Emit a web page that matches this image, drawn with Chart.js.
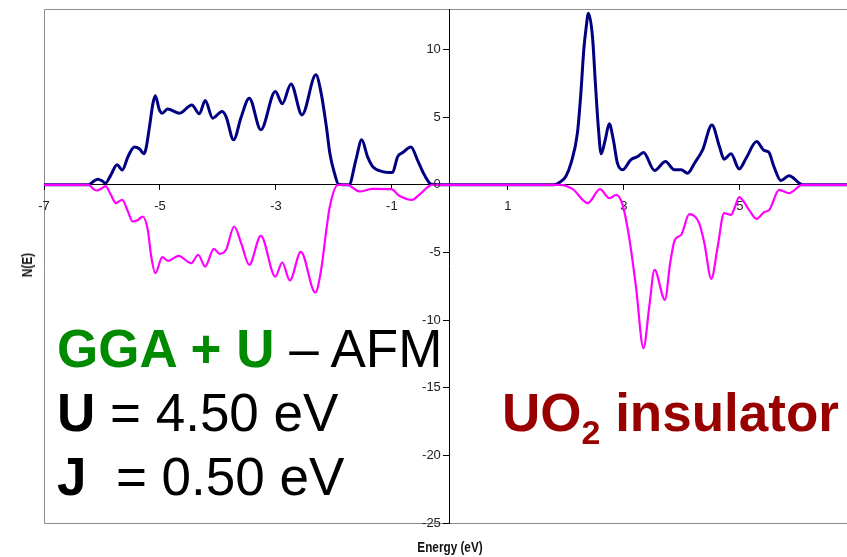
<!DOCTYPE html>
<html><head><meta charset="utf-8">
<script src="https://cdn.jsdelivr.net/npm/chart.js@4.4.1/dist/chart.umd.min.js"></script>
<style>
html,body{margin:0;padding:0;background:#fff;}
#wrap{position:relative;width:847px;height:557px;overflow:hidden;background:#fff;}
#c{position:absolute;left:0;top:0;}
.t{position:absolute;white-space:pre;font-family:"Liberation Sans",Arial,sans-serif;font-size:53px;line-height:64px;color:#000;}
.b{font-weight:bold;}
.g{color:#008a00;font-weight:bold;}
.r{color:#990000;font-weight:bold;}
.r sub{font-size:34px;line-height:0;vertical-align:-13px;}
.ax{position:absolute;white-space:nowrap;font-family:"Liberation Sans",Arial,sans-serif;font-weight:bold;font-size:14px;line-height:14px;color:#111;text-align:center;}
</style></head>
<body>
<div id="wrap">
<canvas id="c" width="847" height="557"></canvas>
<div class="t" style="left:57px;top:317px;"><span class="g">GGA + U</span> – AFM</div>
<div class="t" style="left:57px;top:381px;"><span class="b">U</span> = 4.50 eV</div>
<div class="t" style="left:57px;top:445px;"><span class="b">J</span>  = 0.50 eV</div>
<div class="t r" style="left:502px;top:381px;">UO<sub>2</sub> insulator</div>
<div class="ax" style="left:400px;top:540px;width:100px;transform:scaleX(0.84);">Energy (eV)</div>
<div class="ax" style="left:-3px;top:258px;width:60px;transform:rotate(-90deg) scaleX(0.84);">N(E)</div>
</div>
<script>
// Energy (eV) and DOS N(E)
const energyUp = [-7, -6.5, -6.23, -6.15, -6.07, -6.0, -5.94, -5.85, -5.74, -5.65, -5.55, -5.44, -5.35, -5.28, -5.24, -5.18, -5.12, -5.08, -5.01, -4.96, -4.87, -4.66, -4.45, -4.32, -4.22, -4.09, -3.93, -3.86, -3.73, -3.6, -3.46, -3.26, -3.01, -2.89, -2.74, -2.55, -2.31, -2.22, -2.13, -2.07, -1.99, -1.92, -1.74, -1.62, -1.52, -1.42, -1.33, -1.16, -0.99, -0.90, -0.81, -0.67, -0.56, -0.44, -0.32, 0, 1, 1.80, 1.89, 2.0, 2.09, 2.20, 2.26, 2.31, 2.35, 2.39, 2.46, 2.51, 2.56, 2.61, 2.68, 2.75, 2.82, 2.89, 2.98, 3.12, 3.24, 3.34, 3.53, 3.72, 3.87, 3.99, 4.10, 4.22, 4.36, 4.52, 4.65, 4.73, 4.85, 4.99, 5.11, 5.29, 5.42, 5.50, 5.59, 5.71, 5.85, 6.03, 6.08, 6.5, 6.85];
const dosUp = [0, 0, 0, 0.25, 0.42, 0.3, 0.12, 0.7, 1.48, 1.1, 2.1, 2.79, 2.65, 2.29, 2.7, 4.31, 6.04, 6.58, 5.54, 5.3, 5.6, 5.3, 5.91, 5.25, 6.23, 4.93, 5.42, 5.05, 3.33, 5.0, 6.41, 4.07, 6.9, 6.0, 7.46, 5.17, 8.13, 6.78, 4.31, 2.34, 0.86, 0.05, 0, 1.85, 3.33, 2.09, 1.35, 0.98, 0.91, 2.09, 2.39, 2.79, 1.85, 0.74, 0.05, 0, 0, 0, 0.17, 0.62, 1.6, 3.82, 6.78, 9.98, 11.6, 12.69, 10.96, 7.52, 4.31, 2.29, 3.33, 4.51, 3.33, 1.6, 1.11, 1.85, 2.09, 2.39, 1.06, 1.72, 1.11, 1.11, 0.86, 1.6, 2.59, 4.43, 2.83, 1.9, 2.29, 1.18, 1.97, 3.2, 2.54, 2.42, 1.35, 0.32, 0.67, 0.12, 0, 0, 0];
const energyDown = [-7, -6.5, -6.23, -6.15, -6.09, -6.0, -5.94, -5.85, -5.76, -5.65, -5.55, -5.47, -5.38, -5.30, -5.21, -5.15, -5.08, -4.96, -4.86, -4.68, -4.46, -4.34, -4.22, -4.07, -3.97, -3.86, -3.72, -3.6, -3.46, -3.26, -3.01, -2.89, -2.76, -2.57, -2.32, -2.22, -2.13, -2.07, -1.93, -1.77, -1.56, -1.33, -1.01, -0.87, -0.65, -0.53, -0.30, 0, 1, 1.89, 2.12, 2.38, 2.59, 2.75, 2.87, 2.98, 3.09, 3.21, 3.34, 3.44, 3.53, 3.71, 3.80, 3.88, 3.99, 4.13, 4.30, 4.39, 4.51, 4.62, 4.73, 4.85, 4.91, 4.99, 5.16, 5.29, 5.42, 5.51, 5.68, 5.85, 6.08, 6.5, 6.85];
const dosDown = [0, 0, 0, -0.3, -0.42, -0.25, -0.1, -0.7, -1.35, -1.11, -2.0, -2.71, -2.6, -2.34, -3.33, -5.3, -6.53, -5.35, -5.62, -5.25, -5.79, -5.17, -6.04, -4.73, -5.10, -4.80, -3.08, -4.3, -5.91, -3.77, -6.78, -5.74, -7.07, -4.95, -7.96, -6.28, -3.33, -1.6, 0, 0, -0.49, -0.3, -0.32, -0.81, -1.11, -0.74, 0, 0, 0, 0, -0.32, -1.35, -0.32, -0.99, -0.74, -1.48, -3.82, -7.52, -12.07, -8.99, -6.28, -8.50, -5.79, -4.07, -3.70, -2.17, -2.83, -4.31, -6.95, -4.56, -2.09, -2.22, -1.72, -0.91, -1.85, -2.51, -2.02, -1.85, -0.37, -0.61, 0, 0, 0];
const xTickValues = [-7, -5, -3, -1, 1, 3, 5];
const yTickValues = [-25, -20, -15, -10, -5, 0, 5, 10];

const tickFont = {family: '"Liberation Sans",Arial,sans-serif', size: 13};
const tickColor = '#222';

const framePlugin = {
  id: 'frame',
  beforeDraw(chart) {
    const {ctx, chartArea: a} = chart;
    ctx.save();
    ctx.strokeStyle = '#8c8c8c';
    ctx.lineWidth = 1;
    ctx.beginPath();
    ctx.moveTo(a.right + 5, a.top + 0.5);
    ctx.lineTo(a.left + 0.5, a.top + 0.5);
    ctx.lineTo(a.left + 0.5, a.bottom + 0.5);
    ctx.lineTo(a.right + 5, a.bottom + 0.5);
    ctx.stroke();
    ctx.restore();
  }
};

// y tick labels placed to the left of the y axis (which crosses at energy 0)
const yLabelPlugin = {
  id: 'yLabels',
  afterDraw(chart) {
    const {ctx} = chart;
    const ys = chart.scales.y, xs = chart.scales.x;
    const axisX = xs.getPixelForValue(0);
    ctx.save();
    ctx.font = '13px "Liberation Sans", Arial, sans-serif';
    ctx.fillStyle = tickColor;
    ctx.textAlign = 'right';
    ctx.textBaseline = 'middle';
    ys.ticks.forEach(t => {
      ctx.fillText(String(t.value), axisX - 9, ys.getPixelForValue(t.value));
    });
    ctx.restore();
  }
};

new Chart(document.getElementById('c'), {
  type: 'line',
  data: {
    datasets: [
      {
        label: 'spin down',
        data: energyDown.map((x, i) => ({x: x, y: dosDown[i]})),
        borderColor: '#ff00ff',
        borderWidth: 2.2,
        pointRadius: 0,
        cubicInterpolationMode: 'monotone',
        order: 0
      },
      {
        label: 'spin up',
        data: energyUp.map((x, i) => ({x: x, y: dosUp[i]})),
        borderColor: '#000080',
        borderWidth: 3,
        pointRadius: 0,
        cubicInterpolationMode: 'monotone',
        order: 1
      }
    ]
  },
  options: {
    responsive: false,
    animation: false,
    devicePixelRatio: 1,
    layout: {padding: {left: 44, top: 9, right: 0, bottom: 34}},
    plugins: {legend: {display: false}, tooltip: {enabled: false}},
    scales: {
      x: {
        type: 'linear', min: -7, max: 6.85,
        position: {y: 0},
        afterBuildTicks: s => { s.ticks = xTickValues.map(v => ({value: v})); },
        grid: {drawOnChartArea: false, drawTicks: true, tickLength: 5, color: '#000'},
        border: {display: true, color: '#000', width: 1},
        ticks: {font: tickFont, color: tickColor, padding: 9, maxRotation: 0, autoSkip: false}
      },
      y: {
        type: 'linear', min: -25, max: 13,
        position: {x: 0},
        afterBuildTicks: s => { s.ticks = yTickValues.map(v => ({value: v})); },
        grid: {drawOnChartArea: false, drawTicks: true, tickLength: 6, color: '#000'},
        border: {display: true, color: '#000', width: 1},
        ticks: {display: false}
      }
    }
  },
  plugins: [framePlugin, yLabelPlugin]
});
</script>
</body></html>
